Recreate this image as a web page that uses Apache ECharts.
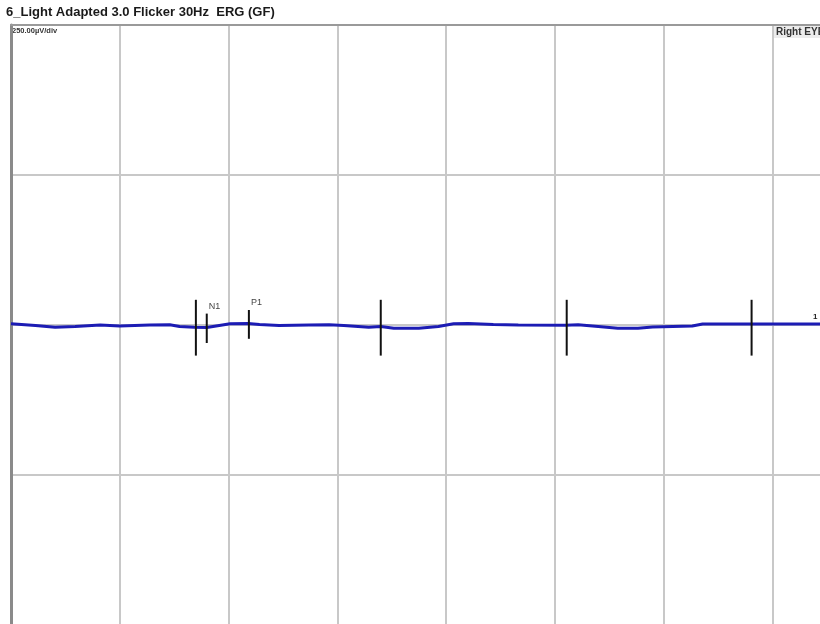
<!DOCTYPE html>
<html>
<head>
<meta charset="utf-8">
<script src="https://cdn.jsdelivr.net/npm/echarts@6/dist/echarts.min.js"></script>
<style>
  html, body { margin: 0; padding: 0; background: #fff; }
  #main { width: 820px; height: 624px; }
</style>
</head>
<body>
<div id="main"></div>
<script>
// trace: time (ms) and amplitude (µV)
const traceTimes = [0, 4.5, 8.1, 11.8, 16.4, 20, 25.5, 29.2, 31, 33.7, 36, 38.3, 40.3, 43.6, 45.7, 49.3, 54.8, 58.5, 61.2, 65.8, 68, 70.4, 75, 78.6, 81.4, 84.1, 88.7, 93.3, 102, 104.3, 108, 111.6, 115.3, 118, 121.7, 125.3, 127.2, 136, 150, 160];
const traceValues = [2, -0.8, -3.7, -2.5, 0, -1.7, 0, 0.3, -2.5, -3.7, -4.2, -0.8, 2, 2.5, 0.8, -0.8, 0, 0.3, -0.8, -3.7, -2.5, -5.3, -5.3, -2.5, 2, 2.5, 0.8, 0, -0.3, 0.3, -2.5, -5.3, -5.3, -3.3, -2.5, -1.7, 1.7, 1.7, 1.7, 1.7];

// cursor marks
const markerTimes = [34, 36, 43.75, 68, 102.2, 136.2];
const markerTops = [42, 19, 25, 42, 42, 42];
const markerBottoms = [-51, -30, -23, -51, -51, -51];
const markerNames = ['', 'N1', 'P1', '', '', ''];

// axis setup: 20 ms/div, 250 µV/div
const xTicks = [0, 20, 40, 60, 80, 100, 120, 140, 160];
const yTicks = [-500, -250, 0, 250, 500];

const chart = echarts.init(document.getElementById('main'));

const gridColor = '#c8c8c8';

const option = {
  animation: false,
  backgroundColor: '#ffffff',
  title: {
    text: '6_Light Adapted 3.0 Flicker 30Hz  ERG (GF)',
    left: 1,
    top: 1,
    textStyle: {
      fontFamily: 'Liberation Sans',
      fontSize: 13,
      fontWeight: 'bold',
      color: '#1a1a1a'
    }
  },
  grid: {
    left: 11,
    top: 25,
    width: 870,
    height: 600,
    outerBoundsMode: 'none',
    containLabel: false
  },
  xAxis: {
    type: 'value',
    position: 'top',
    min: xTicks[0],
    max: xTicks[xTicks.length - 1],
    interval: 20,
    axisLine: { show: true, onZero: false, lineStyle: { color: '#9a9a9a', width: 2 } },
    axisTick: { show: false },
    axisLabel: { show: false },
    splitLine: { show: true, lineStyle: { color: gridColor, width: 2 } }
  },
  yAxis: {
    type: 'value',
    min: yTicks[0],
    max: yTicks[yTicks.length - 1],
    interval: 250,
    axisLine: { show: true, onZero: false, lineStyle: { color: '#8a8a8a', width: 3 } },
    axisTick: { show: false },
    axisLabel: { show: false },
    splitLine: { show: true, lineStyle: { color: gridColor, width: 2 } }
  },
  graphic: [
    {
      type: 'text',
      left: 12,
      top: 27,
      style: {
        text: '250.00µV/div',
        font: 'bold 7.5px "Liberation Sans"',
        fill: '#333',
        backgroundColor: '#fff'
      }
    },
    {
      type: 'rect',
      shape: { x: 774, y: 26, width: 60, height: 12 },
      style: { fill: '#ececec' },
      z: 10
    },
    {
      type: 'text',
      x: 776,
      y: 27,
      style: {
        text: 'Right EYE',
        font: 'bold 10px "Liberation Sans"',
        fill: '#333'
      },
      z: 11
    },
    {
      type: 'text',
      x: 813,
      y: 313,
      style: {
        text: '1',
        font: 'bold 8px "Liberation Sans"',
        fill: '#222'
      },
      z: 11
    }
  ],
  series: [
    {
      type: 'line',
      data: traceTimes.map((t, i) => [t, traceValues[i]]),
      symbol: 'none',
      smooth: false,
      lineStyle: { color: '#1c1cb4', width: 3 },
      z: 3
    },
    {
      type: 'custom',
      data: markerTimes.map((t, i) => [t, markerTops[i], markerBottoms[i]]),
      z: 4,
      renderItem: function (params, api) {
        const t = api.value(0);
        const top = api.coord([t, api.value(1)]);
        const bot = api.coord([t, api.value(2)]);
        const name = markerNames[params.dataIndex];
        const children = [{
          type: 'line',
          shape: { x1: top[0], y1: top[1], x2: bot[0], y2: bot[1] },
          style: { stroke: '#111', lineWidth: 2 }
        }];
        if (name) {
          children.push({
            type: 'text',
            x: top[0] + 2,
            y: top[1] - 7,
            style: {
              text: name,
              font: '9px "Liberation Sans"',
              fill: '#444',
              textAlign: 'left',
              textVerticalAlign: 'middle'
            }
          });
        }
        return { type: 'group', children: children };
      }
    }
  ]
};

chart.setOption(option);
</script>
</body>
</html>
